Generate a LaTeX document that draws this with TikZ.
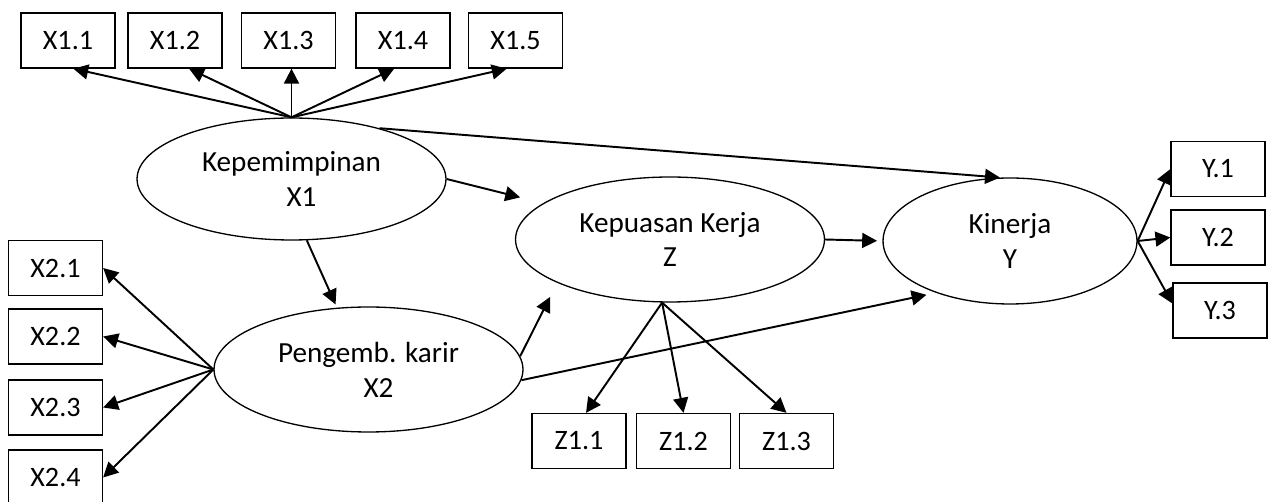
\documentclass[tikz,border=0pt]{standalone}
\usepackage{fontspec}
\setmainfont{Carlito}
\usetikzlibrary{positioning,shapes.geometric,arrows.meta}
\tikzset{
  ind/.style={rectangle, minimum width=1.88cm, minimum height=1.1cm, text centered, draw=black, line width=0.75pt, font=\fontsize{16}{19}\selectfont},
  lv/.style={ellipse, minimum width=6.18cm, minimum height=2.5cm, align=center, draw=black, line width=0.75pt, inner sep=0pt, font=\fontsize{16.6}{19.8}\selectfont},
  pth/.style={-{Triangle[length=8.5pt,width=8.5pt]}, line width=1.1pt}
}
\begin{document}
\begin{tikzpicture}[x=0.02cm,y=-0.02cm]
	\useasboundingbox (0,0) rectangle (1273,502);
	\node[lv,minimum height=2.44cm] (X1) at (291.5,179) {Kepemimpinan\\\hspace*{0.4cm}X1};
	\node[lv] (X2) at (368.5,369.5) {Pengemb. karir\\\hspace*{0.4cm}X2};
	\node[lv] (Z) at (670,239.5) {Kepuasan Kerja\\Z};
	\node[lv,minimum width=5.08cm,minimum height=2.52cm] (Y) at (1010,241) {Kinerja\\Y};
	\node[ind] (x11) at (68,40.5) {X1.1};
	\node[ind] (x12) at (175,40.5) {X1.2};
	\node[ind] (x13) at (288.5,40.5) {X1.3};
	\node[ind] (x14) at (403,40.5) {X1.4};
	\node[ind] (x15) at (515.5,40.5) {X1.5};
	\node[ind] (x21) at (55.5,268) {X2.1};
	\node[ind] (x22) at (55.5,336.5) {X2.2};
	\node[ind] (x23) at (55.5,407.5) {X2.3};
	\node[ind] (x24) at (55.5,477.5) {X2.4};
	\node[ind] (z11) at (579,441) {Z1.1};
	\node[ind] (z12) at (683.5,441) {Z1.2};
	\node[ind] (z13) at (786.5,441) {Z1.3};
	\node[ind] (y1) at (1218,169) {Y.1};
	\node[ind] (y2) at (1218,237.5) {Y.2};
	\node[ind] (y3) at (1220,310.5) {Y.3};
	\draw[pth] (X1.north) -- ([xshift=3pt]x11.south);
	\draw[pth] (X1.north) -- ([xshift=8pt]x12.south);
	\draw[pth] (X1.north) -- (X1.north |- x13.south);
	\draw[pth] (X1.north) -- ([xshift=-5pt]x14.south);
	\draw[pth] (X1.north) -- ([xshift=-5pt]x15.south);
	\draw[pth] (X2.west) -- (x21.east);
	\draw[pth] (X2.west) -- (x22.east);
	\draw[pth] (X2.west) -- (x23.east);
	\draw[pth] (X2.west) -- (x24.east);
	\draw[pth] ([xshift=-4.5pt]Z.south) -- ([xshift=4pt]z11.north);
	\draw[pth] ([xshift=-4.5pt]Z.south) -- (z12.north);
	\draw[pth] ([xshift=-4.5pt]Z.south) -- (z13.north);
	\draw[pth] (Y.east) -- (y1.west);
	\draw[pth] (Y.east) -- (y2.west);
	\draw[pth] (Y.east) -- ([yshift=4pt]y3.west);
	\draw[pth] (X1.30) -- (Y.99);
	\draw[pth,shorten >=13.5pt] (X1.east) -- (Z.164);
	\draw[pth,shorten >=2pt] (X1.284) -- (X2.117);
	\draw[pth,shorten >=9pt] (X2.5) -- (Z.201);
	\draw[pth,shorten >=5.5pt] (X2.356) -- (Y.215);
	\draw[pth,shorten >=3pt] (Z.east) -- (Y.west);
\end{tikzpicture}
\end{document}
